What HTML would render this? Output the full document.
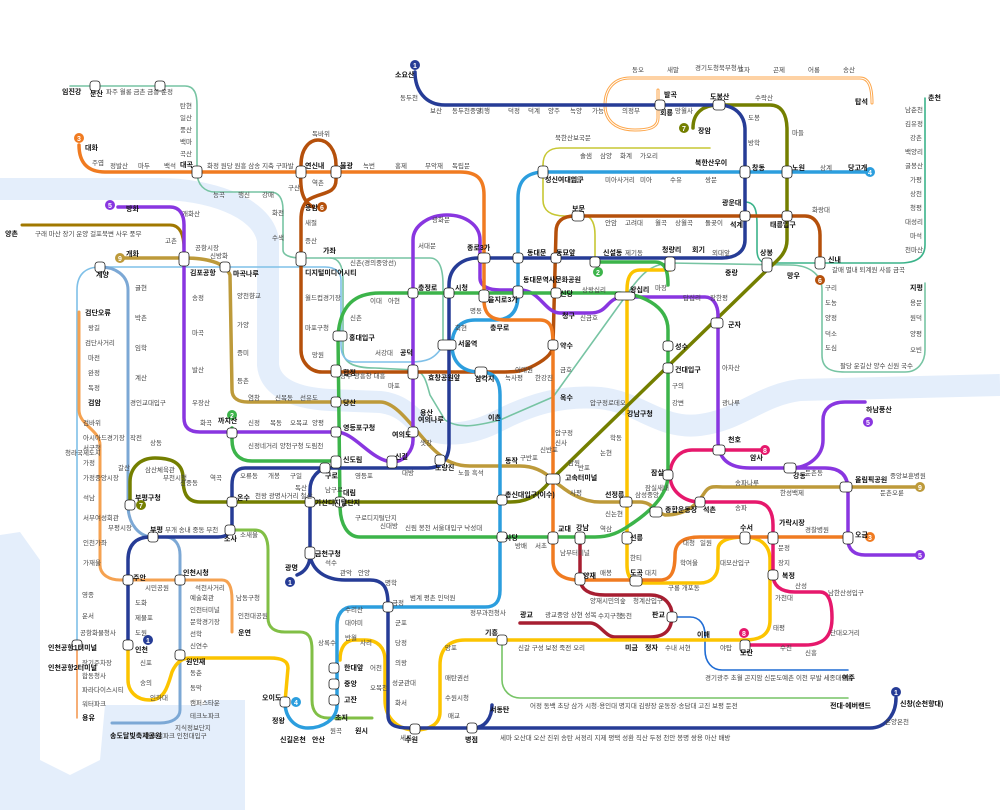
<!DOCTYPE html>
<html><head><meta charset="utf-8">
<style>
html,body{margin:0;padding:0;background:#fff;}
svg{display:block;}
text{font-family:"Liberation Sans","Noto Sans CJK KR",sans-serif;fill:#444;}
.s{font-size:6.5px;}
.b{font-size:7px;font-weight:bold;fill:#111;}
.c{font-size:7px;font-weight:bold;fill:#fff;}
.L{fill:none;stroke-linecap:round;stroke-linejoin:round;}
</style></head><body>
<svg width="1000" height="810" viewBox="0 0 1000 810" xmlns="http://www.w3.org/2000/svg">
<path d="M0,189 L160,189 C205,189 262,205 268,240 L268,365 C270,385 290,398 330,400 L380,402 C400,404 410,415 420,425 C440,438 470,436 500,420 C530,405 560,395 600,398 C640,402 660,430 700,425 C740,420 760,395 800,390 L1000,385" fill="none" stroke="#e4eefb" stroke-width="22"/>
<path d="M0,535 L20,532 L40,560 L40,760 L70,775 L100,760 L105,705 L245,705 L245,810 L0,810 Z" fill="#e4eefb"/>
<path d="M205,700 L245,700 L245,810 L205,810 Z" fill="#e4eefb"/>

<path class="L" stroke="#77c4a3" stroke-width="1.6" d="M70,86 L185,86 C195,86 197,95 197,105 L197,172 C197,185 205,192 215,192 L270,192 C280,192 283,200 283,210 L283,250 C283,255 290,258 301,258 L430,258 C440,258 443,270 443,285 L443,340"/>
<path class="L" stroke="#77c4a3" stroke-width="1.6" d="M330,258 C340,258 343,268 343,280 L343,350 C343,362 352,368 375,368 L415,370 C425,372 427,385 430,395 L445,420 C460,430 480,425 500,420 L553,397 L625,297 C640,275 650,264 670,263 L790,265 C810,265 822,275 822,290 L822,355 C822,368 830,372 845,372 L905,372 C918,372 925,362 925,350 L925,283"/>
<path class="L" stroke="#3bb38a" stroke-width="1.6" d="M925,98 L925,245 C925,258 915,263 900,263 L767,263 M745,202 C755,202 757,210 757,225 L757,250 C757,260 762,263 767,263"/>
<path class="L" stroke="#7fc0e8" stroke-width="1.6" d="M443,345 C435,360 425,362 410,362 L355,362 C345,362 341,355 341,345 L341,280 C341,272 335,267 325,267 L100,267 C85,267 77,275 77,290 L77,645"/>
<path class="L" stroke="#f28b3c" stroke-width="1.4" d="M77,648 L77,718"/>
<path class="L" stroke="#c7c733" stroke-width="1.6" d="M710,148 L560,148 C548,148 543,155 543,165 L543,200 C543,210 550,216 565,216 L585,216 C592,216 595,225 595,235 L595,262"/>
<path class="L" stroke="#fda64a" stroke-width="3" d="M658,90 L658,118 C658,128 648,130 635,130 C615,130 605,120 605,105 C605,88 615,78 630,78 L860,78 C868,78 872,85 872,103"/>
<path class="L" stroke="#fff" stroke-width="1" d="M658,90 L658,118 C658,128 648,130 635,130 C615,130 605,120 605,105 C605,88 615,78 630,78 L860,78 C868,78 872,85 872,103"/>
<path class="L" stroke="#1f6cd4" stroke-width="1.6" d="M672,617 L690,617 C700,617 705,625 705,635 L705,650 C705,662 712,670 722,670 L848,670"/>
<path class="L" stroke="#77c466" stroke-width="1.6" d="M502,640 L502,680 C502,690 510,698 520,698 L848,698"/>
<path class="L" stroke="#a17800" stroke-width="3" d="M22,225 L170,225 C180,225 184,235 184,250"/>
<path class="L" stroke="#7ca8d5" stroke-width="3" d="M100,267 C115,267 128,275 128,290 L128,505 C128,525 140,537 153,537 L165,537 C175,537 180,545 180,555 L180,710 C180,718 172,723 160,723 L112,723"/>
<path class="L" stroke="#f5a251" stroke-width="3" d="M79,312 L79,410 C79,425 100,430 100,445 L100,565 C100,575 110,580 120,580 L222,580 C230,580 232,590 232,600 L232,632"/>
<path class="L" stroke="#81bf46" stroke-width="3" d="M230,530 L255,530 C265,530 268,540 268,550 L268,618 C268,628 275,632 285,632 L300,632 C310,632 312,640 312,650 L312,700 C312,712 318,718 328,718 L372,718"/>
<path class="L" stroke="#a71e31" stroke-width="3.5" d="M580,537 L580,578 C580,590 590,595 605,595 L650,595 C665,595 672,605 672,615 C672,630 665,637 650,637 L615,637 C605,637 600,623 590,623 L520,623"/>

<path class="L" stroke="#bd9a3a" stroke-width="3.5" d="M120,258 L184,258 C205,258 225,262 230,275 L232,390 C232,398 238,402 248,402 L380,402 C400,402 420,440 440,455 C445,460 455,466 470,466 L520,466 C535,466 545,472 553,480 C565,490 580,502 600,502 L640,502 C652,502 655,512 665,515 C690,515 700,500 705,492 C710,485 715,487 725,487 L918,487"/>
<path class="L" stroke="#fcc400" stroke-width="3.5" d="M670,270 L640,270 C630,270 627,278 627,290 L627,565 C627,578 632,583 645,583 L700,583 C712,583 718,575 718,565 L718,550 C718,540 730,537 745,537 C760,537 770,545 770,560 L770,620 C770,635 760,640 745,640 L465,640 C448,640 440,650 440,665 L440,712 C440,724 430,730 415,730 C400,730 385,720 385,700 L385,660 C385,648 378,640 365,640 L355,640 C345,640 340,648 340,660 M285,702 L288,668 C288,660 280,658 270,658 L190,658 C180,658 175,665 172,672 C168,685 165,700 150,700 C135,700 128,690 128,680 L128,645"/>
<path class="L" stroke="#e6186c" stroke-width="3.5" d="M765,450 L692,450 C680,450 670,460 670,475 C670,492 685,502 700,502 L755,502 C768,502 773,512 773,525 L773,575 C773,585 780,592 795,592 L820,592 C830,592 832,605 832,618 C832,635 825,645 805,645 L745,645"/>
<path class="L" stroke="#747f00" stroke-width="3.5" d="M693,128 C693,113 703,105 718,105 L770,105 C782,105 787,115 787,130 L787,240 C787,255 775,262 767,270 L553,478 L545,487 C535,497 525,502 510,502 L200,502 C185,502 183,490 183,478 C183,462 170,458 155,458 C140,458 130,468 130,482 L130,505"/>
<path class="L" stroke="#b5500b" stroke-width="3.5" d="M313,207 C300,200 300,185 301,165 C301,148 310,140 318,140 C328,140 336,150 336,165 L336,180 C336,195 320,192 308,200 C303,205 301,210 301,220 L301,350 C301,362 310,372 322,372 L500,372 C515,372 522,372 535,365 C548,358 553,352 553,345 L556,232 C556,222 562,216 575,216 L805,216 C815,216 820,225 820,235 L820,262"/>
<path class="L" stroke="#8936e0" stroke-width="3.5" d="M118,207 L170,207 C180,207 184,215 184,225 L184,418 C184,428 190,432 200,432 L336,432 C355,432 370,460 392,462 C405,462 413,450 413,440 L413,240 C413,225 430,215 447,215 C465,215 480,225 480,240 L480,278 C480,287 490,290 500,290 L520,290 C540,290 545,313 560,313 L590,313 C610,313 605,297 625,297 L705,297 C713,297 718,305 718,315 L718,440 C718,460 730,468 750,468 L790,468 C810,468 823,455 823,440 L823,420 C823,410 830,402 845,402 L865,402 M790,468 L825,468 C840,468 848,475 848,490 L848,540 C848,550 855,555 865,555 L918,555"/>
<path class="L" stroke="#2c9ede" stroke-width="3.5" d="M870,172 L545,172 C527,172 518,180 518,198 L518,295 C518,312 510,320 495,320 L475,320 C460,320 452,330 452,345 C452,362 462,372 480,372 C495,372 500,380 500,395 L500,590 C500,602 495,607 485,607 L352,607 C342,607 337,615 337,625 L337,705 C337,720 322,728 308,728 C295,728 285,718 285,702"/>
<path class="L" stroke="#f07b21" stroke-width="3.5" d="M79,145 C79,165 90,172 105,172 L460,172 C478,172 484,180 484,195 L484,300 C484,315 492,320 505,320 L540,320 C552,320 553,330 553,345 L553,560 C553,575 565,580 580,580 L660,580 C672,580 675,570 675,555 C675,545 680,537 700,537 L848,537"/>
<path class="L" stroke="#3cb44a" stroke-width="3.5" d="M338,336 C340,305 355,293 380,293 L615,293 C640,293 668,305 668,330 L668,475 C668,495 650,512 630,525 C620,532 610,537 595,537 L360,537 C348,537 340,525 340,505 L338,336 M336,461 L252,461 C238,461 232,452 232,440 L232,428 M595,262 L655,262 C665,262 668,270 668,285"/>
<path class="L" stroke="#263c96" stroke-width="3.5" d="M415,72 C415,90 425,105 445,105 L718,105 C735,105 745,115 745,130 L745,240 C745,252 735,258 722,258 L478,258 C462,258 449,268 449,285 L449,445 C449,460 440,468 428,468 L330,468 C318,468 310,478 310,490 L310,555 C310,565 305,572 297,575 M310,555 C312,570 325,580 345,580 L370,580 C385,580 388,590 388,605 L388,715 C388,725 395,728 410,728 L870,728 C885,728 896,715 896,698 M325,468 L245,468 C236,468 232,475 232,485 L232,525 C232,533 226,537 218,537 L150,537 C136,537 128,545 128,560 L128,645 M473,728 C485,728 492,718 492,705"/>

<g>
<circle cx="415" cy="65" r="5" fill="#263c96"/><text class="c" x="413" y="68">1</text>
<circle cx="896" cy="692" r="5" fill="#263c96"/><text class="c" x="894" y="695">1</text>
<circle cx="290" cy="582" r="5" fill="#263c96"/><text class="c" x="288" y="585">1</text>
<circle cx="148" cy="640" r="5" fill="#263c96"/><text class="c" x="146" y="643">1</text>
<circle cx="232" cy="415" r="5" fill="#3cb44a"/><text class="c" x="230" y="418">2</text>
<circle cx="598" cy="272" r="5" fill="#3cb44a"/><text class="c" x="596" y="275">2</text>
<circle cx="79" cy="138" r="5" fill="#f07b21"/><text class="c" x="77" y="141">3</text>
<circle cx="870" cy="537" r="5" fill="#f07b21"/><text class="c" x="868" y="540">3</text>
<circle cx="870" cy="172" r="5" fill="#2c9ede"/><text class="c" x="868" y="175">4</text>
<circle cx="296" cy="702" r="5" fill="#2c9ede"/><text class="c" x="294" y="705">4</text>
<circle cx="110" cy="205" r="5" fill="#8936e0"/><text class="c" x="108" y="208">5</text>
<circle cx="868" cy="422" r="5" fill="#8936e0"/><text class="c" x="866" y="425">5</text>
<circle cx="920" cy="555" r="5" fill="#8936e0"/><text class="c" x="918" y="558">5</text>
<circle cx="322" cy="207" r="5" fill="#b5500b"/><text class="c" x="320" y="210">6</text>
<circle cx="820" cy="280" r="5" fill="#b5500b"/><text class="c" x="818" y="283">6</text>
<circle cx="684" cy="128" r="5" fill="#747f00"/><text class="c" x="682" y="131">7</text>
<circle cx="141" cy="505" r="5" fill="#747f00"/><text class="c" x="139" y="508">7</text>
<circle cx="765" cy="450" r="5" fill="#e6186c"/><text class="c" x="763" y="453">8</text>
<circle cx="744" cy="633" r="5" fill="#e6186c"/><text class="c" x="742" y="636">8</text>
<circle cx="120" cy="258" r="5" fill="#bd9a3a"/><text class="c" x="118" y="261">9</text>
<circle cx="920" cy="487" r="5" fill="#bd9a3a"/><text class="c" x="918" y="490">9</text>
</g>

<g fill="#fff" stroke="#222" stroke-width="0.8">
<rect x="192" y="166" width="10" height="12" rx="3"/><rect x="296" y="166" width="10" height="12" rx="3"/><rect x="331" y="166" width="10" height="12" rx="3"/>
<rect x="179" y="252" width="10" height="14" rx="3"/><rect x="296" y="252" width="10" height="14" rx="3"/><rect x="220" y="262" width="10" height="10" rx="3"/>
<rect x="408" y="288" width="10" height="10" rx="3"/><rect x="444" y="288" width="10" height="10" rx="3"/><rect x="478" y="253" width="12" height="10" rx="3"/><rect x="479" y="290" width="10" height="12" rx="3"/>
<rect x="513" y="253" width="10" height="10" rx="3"/><rect x="513" y="286" width="10" height="12" rx="3"/><rect x="551" y="253" width="10" height="10" rx="3"/><rect x="551" y="288" width="10" height="10" rx="3"/>
<rect x="590" y="257" width="10" height="10" rx="3"/><rect x="615" y="292" width="20" height="8" rx="3"/><rect x="665" y="257" width="10" height="14" rx="3"/>
<rect x="740" y="166" width="10" height="12" rx="3"/><rect x="782" y="166" width="10" height="12" rx="3"/><rect x="740" y="211" width="10" height="10" rx="3"/><rect x="782" y="211" width="10" height="10" rx="3"/>
<rect x="713" y="100" width="12" height="10" rx="3"/><rect x="655" y="100" width="10" height="10" rx="3"/><rect x="538" y="166" width="10" height="12" rx="3"/><rect x="572" y="211" width="12" height="10" rx="3"/>
<rect x="762" y="258" width="10" height="14" rx="3"/><rect x="815" y="257" width="10" height="12" rx="3"/><rect x="711" y="318" width="12" height="10" rx="3"/>
<rect x="333" y="331" width="14" height="10" rx="3"/><rect x="438" y="340" width="18" height="10" rx="3"/><rect x="331" y="365" width="10" height="12" rx="3"/><rect x="408" y="365" width="10" height="14" rx="3"/>
<rect x="475" y="367" width="12" height="10" rx="3"/><rect x="548" y="340" width="10" height="10" rx="3"/><rect x="663" y="341" width="10" height="10" rx="3"/><rect x="663" y="363" width="10" height="10" rx="3"/>
<rect x="331" y="397" width="10" height="10" rx="3"/><rect x="331" y="427" width="10" height="10" rx="3"/><rect x="408" y="427" width="10" height="10" rx="3"/><rect x="387" y="456" width="10" height="12" rx="3"/>
<rect x="435" y="455" width="10" height="10" rx="3"/><rect x="331" y="456" width="10" height="12" rx="3"/><rect x="320" y="463" width="10" height="10" rx="3"/><rect x="227" y="428" width="10" height="10" rx="3"/>
<rect x="305" y="497" width="10" height="10" rx="3"/><rect x="335" y="497" width="10" height="10" rx="3"/><rect x="227" y="497" width="10" height="10" rx="3"/><rect x="497" y="495" width="10" height="10" rx="3"/>
<rect x="546" y="474" width="14" height="10" rx="3"/><rect x="620" y="497" width="12" height="10" rx="3"/><rect x="650" y="507" width="12" height="10" rx="3"/><rect x="663" y="470" width="10" height="10" rx="3"/>
<rect x="713" y="445" width="12" height="10" rx="3"/><rect x="784" y="463" width="12" height="10" rx="3"/><rect x="840" y="482" width="12" height="10" rx="3"/><rect x="695" y="497" width="10" height="10" rx="3"/>
<rect x="497" y="532" width="10" height="10" rx="3"/><rect x="548" y="532" width="10" height="12" rx="3"/><rect x="575" y="532" width="10" height="12" rx="3"/><rect x="622" y="532" width="10" height="12" rx="3"/>
<rect x="740" y="532" width="10" height="12" rx="3"/><rect x="768" y="532" width="10" height="12" rx="3"/><rect x="843" y="532" width="10" height="12" rx="3"/><rect x="768" y="570" width="10" height="10" rx="3"/>
<rect x="575" y="573" width="10" height="12" rx="3"/><rect x="630" y="576" width="12" height="10" rx="3"/><rect x="667" y="612" width="10" height="10" rx="3"/><rect x="740" y="640" width="10" height="12" rx="3"/>
<rect x="383" y="602" width="10" height="10" rx="3"/><rect x="305" y="547" width="10" height="12" rx="3"/><rect x="497" y="635" width="10" height="10" rx="3"/><rect x="410" y="724" width="10" height="10" rx="3"/>
<rect x="329" y="663" width="10" height="10" rx="3"/><rect x="329" y="679" width="10" height="10" rx="3"/><rect x="329" y="695" width="10" height="10" rx="3"/><rect x="280" y="697" width="10" height="10" rx="3"/>
<rect x="225" y="525" width="10" height="10" rx="3"/><rect x="148" y="532" width="10" height="10" rx="3"/><rect x="123" y="575" width="10" height="10" rx="3"/><rect x="175" y="575" width="10" height="10" rx="3"/>
<rect x="123" y="640" width="10" height="10" rx="3"/><rect x="175" y="650" width="10" height="10" rx="3"/><rect x="125" y="500" width="10" height="10" rx="3"/><rect x="95" y="262" width="10" height="10" rx="3"/>
<rect x="72" y="640" width="10" height="10" rx="3"/><rect x="90" y="81" width="10" height="10" rx="3"/><rect x="155" y="81" width="10" height="10" rx="3"/><rect x="467" y="723" width="10" height="10" rx="3"/>
</g>

<g>
<text class="b" x="395" y="77">소요산</text>
<text class="s" x="400" y="100">동두천</text><text class="s" x="430" y="113">보산</text><text class="s" x="452" y="113">동두천중앙</text><text class="s" x="478" y="113">지행</text><text class="s" x="508" y="113">덕정</text><text class="s" x="528" y="113">덕계</text><text class="s" x="548" y="113">양주</text><text class="s" x="570" y="113">녹양</text><text class="s" x="592" y="113">가능</text><text class="s" x="622" y="113">의정부</text>
<text class="b" x="664" y="97">발곡</text><text class="b" x="660" y="115">회룡</text><text class="s" x="675" y="113">망월사</text><text class="b" x="710" y="99">도봉산</text><text class="s" x="755" y="100">수락산</text>
<text class="s" x="632" y="72">동오</text><text class="s" x="667" y="72">새말</text><text class="s" x="695" y="70">경기도청북부청사</text><text class="s" x="738" y="72">효자</text><text class="s" x="773" y="72">곤제</text><text class="s" x="808" y="72">어룡</text><text class="s" x="843" y="72">송산</text><text class="b" x="855" y="104">탑석</text>
<text class="b" x="698" y="133">장암</text><text class="s" x="748" y="120">도봉</text><text class="s" x="748" y="145">방학</text><text class="s" x="792" y="135">마들</text>
<text class="b" x="752" y="170">창동</text><text class="b" x="792" y="170">노원</text><text class="s" x="820" y="170">상계</text><text class="b" x="848" y="170">당고개</text>
<text class="s" x="555" y="140">북한산보국문</text><text class="s" x="580" y="158">솔샘</text><text class="s" x="600" y="158">삼양</text><text class="s" x="620" y="158">화계</text><text class="s" x="640" y="158">가오리</text><text class="b" x="695" y="165">북한산우이</text>
<text class="b" x="545" y="182">성신여대입구</text><text class="s" x="570" y="182">길음</text><text class="s" x="605" y="182">미아사거리</text><text class="s" x="640" y="182">미아</text><text class="s" x="670" y="182">수유</text><text class="s" x="705" y="182">쌍문</text>
<text class="b" x="722" y="205">광운대</text><text class="b" x="572" y="211">보문</text><text class="s" x="605" y="225">안암</text><text class="s" x="625" y="225">고려대</text><text class="s" x="655" y="225">월곡</text><text class="s" x="675" y="225">상월곡</text><text class="s" x="705" y="225">돌곶이</text><text class="b" x="730" y="227">석계</text><text class="b" x="770" y="227">태릉입구</text><text class="s" x="812" y="212">화랑대</text>
<text class="b" x="527" y="255">동대문</text><text class="b" x="556" y="255">동묘앞</text><text class="b" x="603" y="255">신설동</text><text class="s" x="625" y="255">제기동</text><text class="b" x="662" y="252">청량리</text><text class="b" x="692" y="252">회기</text><text class="s" x="712" y="255">외대앞</text>
<text class="b" x="725" y="275">중랑</text><text class="b" x="760" y="255">상봉</text><text class="b" x="787" y="278">망우</text><text class="b" x="828" y="262">신내</text><text class="s" x="832" y="272">갈매 별내 퇴계원 사릉 금곡</text>
<text class="b" x="928" y="100">춘천</text><text class="s" x="905" y="112">남춘천</text><text class="s" x="905" y="126">김유정</text><text class="s" x="910" y="140">강촌</text><text class="s" x="905" y="154">백양리</text><text class="s" x="905" y="168">굴봉산</text><text class="s" x="910" y="182">가평</text><text class="s" x="910" y="196">상천</text><text class="s" x="910" y="210">청평</text><text class="s" x="905" y="224">대성리</text><text class="s" x="910" y="238">마석</text><text class="s" x="905" y="252">천마산</text>
<text class="b" x="910" y="290">지평</text><text class="s" x="910" y="305">용문</text><text class="s" x="910" y="320">원덕</text><text class="s" x="910" y="336">양평</text><text class="s" x="910" y="352">오빈</text><text class="s" x="825" y="290">구리</text><text class="s" x="825" y="305">도농</text><text class="s" x="825" y="320">양정</text><text class="s" x="825" y="336">덕소</text><text class="s" x="825" y="350">도심</text><text class="s" x="840" y="368">팔당 운길산 양수 신원 국수</text>
<text class="b" x="62" y="94">임진강</text><text class="b" x="90" y="96">문산</text><text class="s" x="106" y="94">파주 월롱 금촌 금릉 운정</text><text class="s" x="180" y="108">탄현</text><text class="s" x="180" y="120">일산</text><text class="s" x="180" y="132">풍산</text><text class="s" x="180" y="144">백마</text><text class="s" x="180" y="156">곡산</text>
<text class="b" x="85" y="150">대화</text><text class="s" x="92" y="165">주엽</text><text class="s" x="110" y="168">정발산</text><text class="s" x="138" y="168">마두</text><text class="s" x="164" y="168">백석</text><text class="b" x="180" y="167">대곡</text><text class="s" x="207" y="168">화정 원당 원흥 삼송 지축 구파발</text>
<text class="b" x="305" y="168">연신내</text><text class="b" x="340" y="168">불광</text><text class="s" x="363" y="168">녹번</text><text class="s" x="395" y="168">홍제</text><text class="s" x="425" y="168">무악재</text><text class="s" x="452" y="168">독립문</text><text class="s" x="312" y="136">독바위</text><text class="s" x="312" y="185">역촌</text><text class="b" x="305" y="210">응암</text><text class="s" x="288" y="190">구산</text>
<text class="s" x="213" y="197">능곡</text><text class="s" x="238" y="197">행신</text><text class="s" x="262" y="197">강매</text><text class="s" x="272" y="215">화전</text><text class="s" x="272" y="240">수색</text>
<text class="s" x="305" y="225">새절</text><text class="s" x="305" y="243">증산</text><text class="b" x="323" y="253">가좌</text><text class="b" x="305" y="275">디지털미디어시티</text><text class="s" x="305" y="300">월드컵경기장</text><text class="s" x="305" y="330">마포구청</text><text class="s" x="312" y="357">망원</text>
<text class="b" x="126" y="211">방화</text><text class="s" x="182" y="216">개화산</text><text class="b" x="5" y="236">양촌</text><text class="s" x="35" y="236">구래 마산 장기 운양 걸포북변 사우 풍무</text><text class="s" x="165" y="243">고촌</text>
<text class="b" x="126" y="256">개화</text><text class="b" x="190" y="275">김포공항</text><text class="b" x="233" y="276">마곡나루</text><text class="s" x="195" y="250">공항시장</text><text class="s" x="210" y="258">신방화</text>
<text class="b" x="96" y="277">계양</text><text class="b" x="85" y="315">검단오류</text><text class="s" x="88" y="330">왕길</text><text class="s" x="85" y="345">검단사거리</text><text class="s" x="88" y="360">마전</text><text class="s" x="88" y="375">완정</text><text class="s" x="88" y="390">독정</text><text class="b" x="88" y="405">검암</text>
<text class="s" x="135" y="290">귤현</text><text class="s" x="135" y="320">박촌</text><text class="s" x="135" y="350">임학</text><text class="s" x="135" y="380">계산</text><text class="s" x="192" y="300">송정</text><text class="s" x="192" y="335">마곡</text><text class="s" x="192" y="372">발산</text><text class="s" x="192" y="405">우장산</text>
<text class="s" x="237" y="298">양천향교</text><text class="s" x="237" y="327">가양</text><text class="s" x="237" y="355">증미</text><text class="s" x="237" y="383">등촌</text><text class="s" x="248" y="400">염창</text><text class="s" x="275" y="400">신목동</text><text class="s" x="300" y="400">선유도</text>
<text class="b" x="343" y="405">당산</text><text class="b" x="343" y="375">합정</text><text class="b" x="349" y="340">홍대입구</text><text class="s" x="350" y="320">신촌</text><text class="s" x="370" y="303">이대</text><text class="s" x="388" y="303">아현</text><text class="b" x="418" y="290">충정로</text>
<text class="b" x="455" y="290">시청</text><text class="b" x="467" y="250">종로3가</text><text class="b" x="488" y="302">을지로3가</text><text class="s" x="432" y="222">광화문</text><text class="s" x="418" y="248">서대문</text><text class="s" x="350" y="265">신촌(경의중앙선)</text>
<text class="b" x="458" y="346">서울역</text><text class="b" x="523" y="282">동대문역사문화공원</text><text class="b" x="490" y="330">충무로</text><text class="s" x="470" y="313">명동</text><text class="s" x="455" y="330">회현</text>
<text class="b" x="560" y="296">신당</text><text class="s" x="582" y="292">상왕십리</text><text class="b" x="630" y="292">왕십리</text><text class="b" x="562" y="318">청구</text><text class="s" x="580" y="320">신금호</text><text class="b" x="560" y="348">약수</text>
<text class="s" x="655" y="290">마장</text><text class="s" x="683" y="300">답십리</text><text class="s" x="710" y="300">장한평</text><text class="b" x="728" y="327">군자</text><text class="b" x="675" y="349">성수</text><text class="b" x="675" y="372">건대입구</text><text class="s" x="672" y="388">구의</text><text class="s" x="672" y="405">강변</text><text class="s" x="722" y="370">아차산</text><text class="s" x="722" y="405">광나루</text>
<text class="s" x="375" y="355">서강대</text><text class="b" x="400" y="355">공덕</text><text class="b" x="428" y="380">효창공원앞</text><text class="b" x="475" y="381">삼각지</text><text class="s" x="340" y="378">상수 광흥창 대흥</text><text class="s" x="388" y="388">마포</text>
<text class="s" x="505" y="380">녹사평</text><text class="s" x="515" y="372">이태원</text><text class="s" x="535" y="380">한강진</text><text class="s" x="560" y="372">금호</text><text class="b" x="560" y="400">옥수</text>
<text class="b" x="418" y="422">여의나루</text><text class="b" x="392" y="437">여의도</text><text class="b" x="420" y="415">용산</text><text class="b" x="488" y="420">이촌</text><text class="b" x="395" y="459">신길</text><text class="b" x="435" y="470">노량진</text><text class="s" x="458" y="475">노들 흑석</text>
<text class="b" x="343" y="430">영등포구청</text><text class="b" x="343" y="462">신도림</text><text class="s" x="355" y="478">영등포</text><text class="b" x="325" y="478">구로</text><text class="s" x="402" y="475">대방</text><text class="s" x="420" y="445">샛강</text>
<text class="b" x="505" y="463">동작</text><text class="b" x="505" y="497">총신대입구(이수)</text><text class="b" x="565" y="480">고속터미널</text><text class="s" x="520" y="460">구반포</text><text class="s" x="540" y="452">신반포</text><text class="s" x="568" y="465">잠원</text><text class="s" x="555" y="445">신사</text><text class="s" x="555" y="435">압구정</text>
<text class="b" x="627" y="416">강남구청</text><text class="s" x="590" y="405">압구정로데오</text><text class="s" x="600" y="455">논현</text><text class="s" x="610" y="440">학동</text><text class="s" x="578" y="470">반포</text>
<text class="s" x="570" y="495">사평</text><text class="b" x="605" y="497">선정릉</text><text class="s" x="635" y="497">삼성중앙</text><text class="b" x="665" y="512">종합운동장</text><text class="b" x="651" y="475">잠실</text><text class="s" x="645" y="490">잠실새내</text>
<text class="b" x="728" y="442">천호</text><text class="b" x="750" y="460">암사</text><text class="b" x="793" y="478">강동</text><text class="b" x="855" y="482">올림픽공원</text><text class="s" x="805" y="475">둔촌동</text><text class="b" x="866" y="412">하남풍산</text>
<text class="b" x="703" y="512">석촌</text><text class="s" x="735" y="510">송파</text><text class="s" x="735" y="485">송파나루</text><text class="s" x="780" y="495">한성백제</text><text class="s" x="880" y="495">둔촌오륜</text><text class="s" x="890" y="478">중앙보훈병원</text>
<text class="b" x="779" y="525">가락시장</text><text class="b" x="855" y="537">오금</text><text class="s" x="805" y="532">경찰병원</text><text class="s" x="778" y="550">문정</text><text class="s" x="778" y="565">장지</text><text class="b" x="782" y="578">복정</text><text class="s" x="795" y="588">산성</text><text class="s" x="828" y="595">남한산성입구</text><text class="s" x="830" y="635">단대오거리</text><text class="s" x="780" y="650">수진</text><text class="s" x="805" y="655">신흥</text>
<text class="b" x="740" y="530">수서</text><text class="s" x="700" y="545">일원</text><text class="s" x="683" y="545">대청</text><text class="s" x="720" y="565">대모산입구</text><text class="s" x="680" y="565">학여울</text><text class="s" x="775" y="600">가천대</text><text class="s" x="773" y="630">태평</text><text class="b" x="740" y="655">모란</text>
<text class="b" x="505" y="540">사당</text><text class="s" x="515" y="548">방배</text><text class="s" x="535" y="548">서초</text><text class="b" x="558" y="531">교대</text><text class="b" x="576" y="530">강남</text><text class="s" x="600" y="531">역삼</text><text class="b" x="630" y="540">선릉</text><text class="s" x="605" y="516">신논현</text>
<text class="b" x="583" y="578">양재</text><text class="s" x="600" y="575">매봉</text><text class="b" x="630" y="575">도곡</text><text class="s" x="645" y="575">대치</text><text class="s" x="630" y="560">한티</text><text class="s" x="668" y="590">구룡 개포동</text><text class="s" x="560" y="555">남부터미널</text>
<text class="s" x="590" y="603">양재시민의숲</text><text class="s" x="633" y="603">청계산입구</text><text class="b" x="652" y="617">판교</text><text class="s" x="620" y="618">동천</text><text class="s" x="598" y="618">수지구청</text><text class="b" x="520" y="617">광교</text><text class="s" x="545" y="617">광교중앙 상현 성복</text><text class="b" x="625" y="650">미금</text><text class="b" x="645" y="650">정자</text><text class="b" x="697" y="637">이매</text>
<text class="s" x="518" y="650">신갈 구성 보정 죽전 오리</text><text class="s" x="665" y="650">수내 서현</text><text class="s" x="720" y="650">야탑</text><text class="b" x="485" y="635">기흥</text>
<text class="s" x="705" y="680">경기광주 초월 곤지암 신둔도예촌 이천 부발 세종대왕릉</text><text class="b" x="842" y="680">여주</text>
<text class="s" x="530" y="708">어정 동백 초당 삼가 시청·용인대 명지대 김량장 운동장·송담대 고진 보평 둔전</text><text class="b" x="830" y="708">전대·에버랜드</text>
<text class="s" x="400" y="740">세류</text><text class="b" x="465" y="742">병점</text><text class="b" x="490" y="712">서동탄</text><text class="s" x="500" y="740">세마 오산대 오산 진위 송탄 서정리 지제 평택 성환 직산 두정 천안 봉명 쌍용 아산 배방</text><text class="b" x="900" y="706">신창(순천향대)</text><text class="s" x="885" y="724">온양온천</text>
<text class="b" x="405" y="742">수원</text><text class="s" x="392" y="605">금정</text><text class="s" x="410" y="600">범계 평촌 인덕원</text><text class="s" x="470" y="615">정부과천청사</text><text class="s" x="395" y="625">군포</text><text class="s" x="395" y="645">당정</text><text class="s" x="395" y="665">의왕</text><text class="s" x="392" y="685">성균관대</text><text class="s" x="395" y="705">화서</text>
<text class="s" x="445" y="650">망포</text><text class="s" x="445" y="680">매탄권선</text><text class="s" x="445" y="700">수원시청</text><text class="s" x="448" y="718">매교</text><text class="s" x="360" y="645">사리</text><text class="s" x="370" y="670">어천</text><text class="s" x="370" y="690">오목천</text>
<text class="b" x="344" y="670">한대앞</text><text class="b" x="344" y="686">중앙</text><text class="b" x="344" y="702">고잔</text><text class="b" x="335" y="720">초지</text><text class="s" x="345" y="612">수리산</text><text class="s" x="345" y="625">대야미</text><text class="s" x="345" y="640">반월</text><text class="s" x="318" y="645">상록수</text>
<text class="b" x="262" y="700">오이도</text><text class="b" x="272" y="723">정왕</text><text class="b" x="280" y="742">신길온천</text><text class="b" x="312" y="742">안산</text><text class="b" x="355" y="733">원시</text><text class="s" x="330" y="733">원곡</text>
<text class="b" x="315" y="556">금천구청</text><text class="b" x="285" y="570">광명</text><text class="b" x="315" y="505">가산디지털단지</text><text class="s" x="295" y="490">독산</text><text class="s" x="325" y="492">남구로</text><text class="b" x="343" y="495">대림</text><text class="s" x="355" y="520">구로디지털단지</text><text class="s" x="380" y="528">신대방</text><text class="s" x="405" y="530">신림 봉천 서울대입구 낙성대</text>
<text class="s" x="325" y="565">석수</text><text class="s" x="340" y="575">관악</text><text class="s" x="358" y="575">안양</text><text class="s" x="385" y="585">명학</text>
<text class="b" x="237" y="500">온수</text><text class="s" x="210" y="480">역곡</text><text class="s" x="255" y="498">천왕 광명사거리 철산</text><text class="s" x="240" y="478">오류동</text><text class="s" x="268" y="478">개봉</text><text class="s" x="290" y="478">구일</text>
<text class="b" x="218" y="423">까치산</text><text class="s" x="200" y="425">화곡</text><text class="s" x="248" y="425">신정</text><text class="s" x="270" y="425">목동</text><text class="s" x="290" y="425">오목교</text><text class="s" x="312" y="425">양평</text><text class="s" x="248" y="448">신정네거리 양천구청 도림천</text>
<text class="b" x="224" y="541">소사</text><text class="b" x="150" y="532">부평</text><text class="s" x="165" y="532">부개 송내 중동 부천</text><text class="s" x="240" y="537">소새울</text><text class="b" x="135" y="500">부평구청</text><text class="s" x="145" y="472">삼산체육관</text><text class="s" x="163" y="480">부천시청</text><text class="s" x="180" y="485">신중동</text><text class="s" x="150" y="445">상동</text>
<text class="b" x="133" y="580">주안</text><text class="b" x="183" y="575">인천시청</text><text class="s" x="145" y="590">시민공원</text><text class="s" x="195" y="590">석천사거리</text><text class="s" x="135" y="605">도화</text><text class="s" x="135" y="620">제물포</text><text class="s" x="135" y="635">도원</text><text class="b" x="135" y="652">인천</text>
<text class="s" x="190" y="600">예술회관</text><text class="s" x="190" y="612">인천터미널</text><text class="s" x="190" y="624">문학경기장</text><text class="s" x="190" y="636">선학</text><text class="s" x="190" y="648">신연수</text><text class="b" x="186" y="664">원인재</text><text class="s" x="236" y="600">남동구청</text><text class="s" x="238" y="618">인천대공원</text><text class="b" x="238" y="635">운연</text>
<text class="s" x="190" y="675">동춘</text><text class="s" x="190" y="690">동막</text><text class="s" x="190" y="705">캠퍼스타운</text><text class="s" x="190" y="718">테크노파크</text><text class="s" x="140" y="665">신포</text><text class="s" x="140" y="685">숭의</text><text class="s" x="150" y="700">인하대</text>
<text class="b" x="110" y="738">송도달빛축제공원</text><text class="s" x="145" y="738">센트럴파크 인천대입구</text><text class="s" x="175" y="730">지식정보단지</text>
<text class="s" x="65" y="455">청라국제도시</text><text class="s" x="82" y="597">영종</text><text class="s" x="82" y="618">운서</text><text class="s" x="80" y="635">공항화물청사</text><text class="b" x="48" y="650">인천공항1터미널</text><text class="b" x="48" y="670">인천공항2터미널</text><text class="s" x="82" y="665">장기주차장</text><text class="s" x="82" y="678">합동청사</text><text class="s" x="82" y="692">파라다이스시티</text><text class="s" x="82" y="706">워터파크</text><text class="b" x="82" y="720">용유</text>
<text class="s" x="83" y="425">검바위</text><text class="s" x="83" y="440">아시아드경기장</text><text class="s" x="83" y="450">서구청</text><text class="s" x="83" y="465">가정</text><text class="s" x="83" y="480">가정중앙시장</text><text class="s" x="83" y="500">석남</text><text class="s" x="83" y="520">서부여성회관</text><text class="s" x="83" y="545">인천가좌</text><text class="s" x="83" y="565">가재울</text>
<text class="s" x="130" y="405">경인교대입구</text><text class="s" x="130" y="440">작전</text><text class="s" x="118" y="470">갈산</text><text class="s" x="108" y="530">부평시장</text>
</g>
</svg>
</body></html>
